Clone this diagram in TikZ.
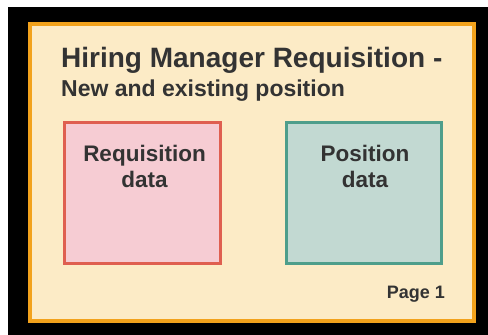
\documentclass[tikz,border=0pt]{standalone}
\usepackage{fontspec}
\setmainfont{Liberation Sans}
\definecolor{cream}{HTML}{FCEBC6}
\definecolor{frameor}{HTML}{F2A21C}
\definecolor{redline}{HTML}{DF5F50}
\definecolor{redfill}{HTML}{F6CCD3}
\definecolor{grnline}{HTML}{4E9E8B}
\definecolor{grnfill}{HTML}{C2D9D2}
\definecolor{txt}{HTML}{333333}
\tikzset{
  databox/.style={draw, line width=3pt, inner sep=0pt},
  boxlabel/.style={text=txt, font=\bfseries\fontsize{22.5}{26}\selectfont, align=center, inner sep=0pt, anchor=north},
}
\begin{document}
\begin{tikzpicture}[x=1pt,y=-1pt]
\useasboundingbox (0,0) rectangle (488,335);
\fill[white] (0,0) rectangle (488,335);
\fill[black] (8,7) rectangle (488,335);
\node[draw=frameor, fill=cream, line width=4pt, inner sep=0pt, minimum width=444pt, minimum height=297pt] (frame) at (252,172.5) {};
\node[text=txt, font=\bfseries\fontsize{28}{32}\selectfont, anchor=base west, inner sep=0pt] (title) at (61,67) {Hiring Manager Requisition -};
\node[text=txt, font=\bfseries\fontsize{23}{26}\selectfont, anchor=base west, inner sep=0pt] (subtitle) at (61,96) {New and existing position};
\node[databox, draw=redline, fill=redfill, minimum width=156pt, minimum height=141pt] (req) at (142.5,193) {};
\node[databox, draw=grnline, fill=grnfill, minimum width=155pt, minimum height=141pt] (pos) at (364,193) {};
\node[boxlabel] (reqtxt) at (144.5,144.5) {Requisition\\data};
\node[boxlabel] (postxt) at (365,144.5) {Position\\data};
\node[text=txt, font=\bfseries\fontsize{18}{22}\selectfont, anchor=base east, inner sep=0pt] (page) at (445,298) {Page 1};
\end{tikzpicture}
\end{document}
